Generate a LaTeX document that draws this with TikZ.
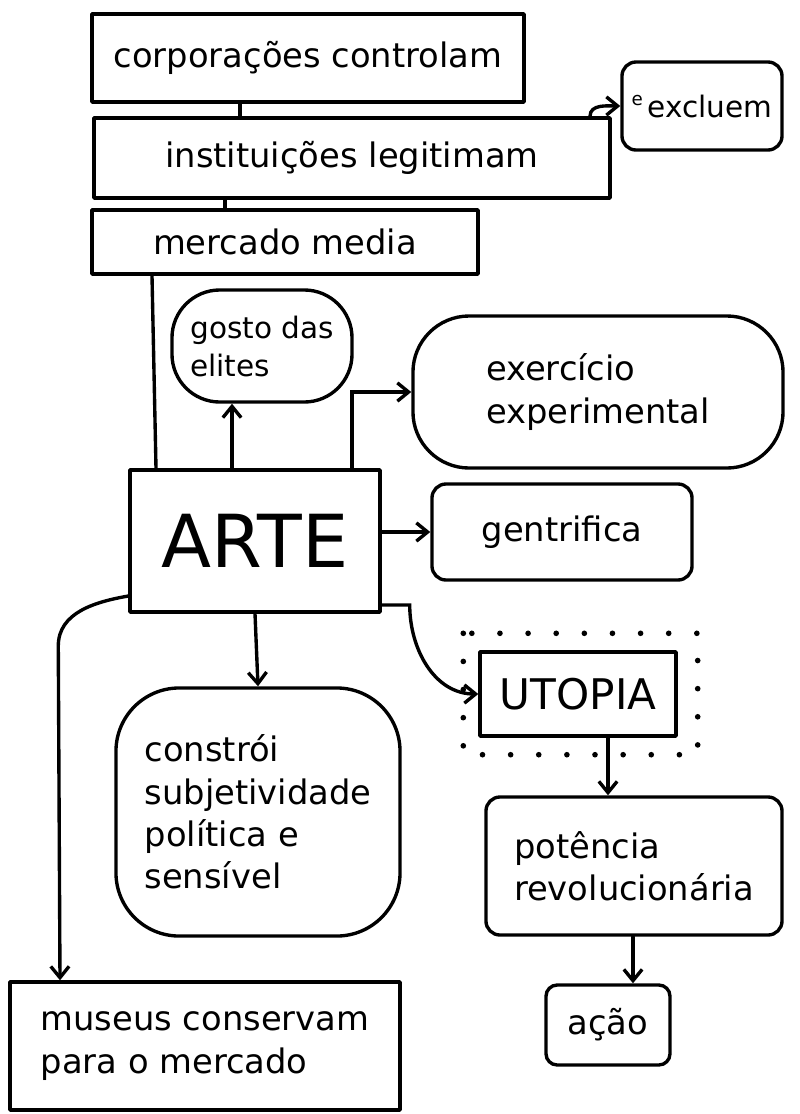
\documentclass[tikz,border=0pt]{standalone}
\usepackage{fontspec}
\setmainfont{DejaVu Sans}
\usepackage{tikz}
\usetikzlibrary{calc}
\usetikzlibrary{arrows.meta}
\newcommand{\penwidth}{2.4pt}
\newcommand{\handsize}{\fontsize{24}{30}\selectfont}
\newcommand{\smallhand}{\fontsize{21}{27}\selectfont}
\newcommand{\bigsize}{\fontsize{52}{60}\selectfont}
\tikzset{
    common/.style={draw, line width=\penwidth, line join=round, font=\handsize, align=left},
    box/.style={common, rectangle},
    blob/.style={common, rounded corners=#1},
    blob/.default=18pt,
    conn/.style={line width=\penwidth, line cap=round},
    arr/.style={conn, -{Straight Barb[length=8pt, width=13pt]}},
    halo/.style={line width=4pt, line cap=round, dash pattern=on 0pt off 20pt}
}

\begin{document}
\begin{tikzpicture}[x=0.025cm, y=-0.025cm]
    \useasboundingbox (0,0) rectangle (800,1114);

    \node[box, minimum width=10.8cm, minimum height=2.2cm] (corp) at (308,58) {corporações controlam};
    \node[box, minimum width=12.9cm, minimum height=2cm] (inst) at (352,158) {instituições legitimam};
    \node[blob=10pt, minimum width=4cm, minimum height=2.2cm, font=\smallhand] (excl) at (702,106)
        {\raisebox{8pt}{\fontsize{13}{13}\selectfont e}\,excluem};
    \node[box, minimum width=9.65cm, minimum height=1.6cm] (merc) at (285,242) {mercado media};

    \node[blob=34pt, minimum width=4.5cm, minimum height=2.8cm, font=\smallhand] (gosto) at (262,346) {gosto das\\elites};
    \node[blob=40pt, minimum width=9.25cm, minimum height=3.8cm] (exerc) at (598,392) {exercício\\experimental};
    \node[box, minimum width=6.25cm, minimum height=3.55cm, font=\bigsize] (arte) at (255,541) {ARTE};
    \node[blob=10pt, minimum width=6.5cm, minimum height=2.4cm] (gentr) at (562,532) {gentrifica};

    \node[blob=45pt, minimum width=7.1cm, minimum height=6.2cm] (constr) at (258,812)
        {constrói\\subjetividade\\política e\\sensível};
    \node[box, minimum width=4.9cm, minimum height=2.1cm, font=\fontsize{30}{36}\selectfont] (utopia) at (578,694) {UTOPIA};
    \node[blob=10pt, minimum width=7.4cm, minimum height=3.45cm] (potencia) at (634,866) {potência\\revolucionária};
    \node[blob=8pt, minimum width=3.1cm, minimum height=2cm] (acao) at (608,1025) {ação};
    \node[box, minimum width=9.75cm, minimum height=3.2cm] (museus) at (205,1046) {museus conservam\\para o mercado};

    \draw[halo] ([shift={(-15,-17)}]utopia.north west) rectangle ([shift={(20,17)}]utopia.south east);

    \draw[conn] (corp.south -| 240,0) -- (inst.north -| 240,0);
    \draw[conn] (inst.south -| 225,0) -- (merc.north -| 225,0);
    \draw[arr] (inst.north -| 590,0) to[out=90, in=180] (excl.west);
    \draw[conn] (merc.south -| 152,0) -- (arte.north -| 156,0);

    \draw[arr] (arte.north -| 232,0) -- (gosto.south -| 232,0);
    \draw[arr] (arte.north -| 352,0) |- (exerc.west);
    \draw[arr] (arte.east |- gentr.west) -- (gentr.west);
    \draw[arr] ([shift={(0,55)}]arte.west) to[out=190, in=90] ++(-70,50) -- (museus.north -| 60,0);
    \draw[arr] (arte.south) -- (constr.north);
    \draw[arr] ([shift={(0,64)}]arte.east) -- ++(28,0) to[out=-90, in=180] (utopia.west);
    \draw[arr] (utopia.south -| 608,0) -- (potencia.north -| 608,0);
    \draw[arr] (potencia.south -| 633,0) -- (acao.north -| 633,0);
\end{tikzpicture}
\end{document}
